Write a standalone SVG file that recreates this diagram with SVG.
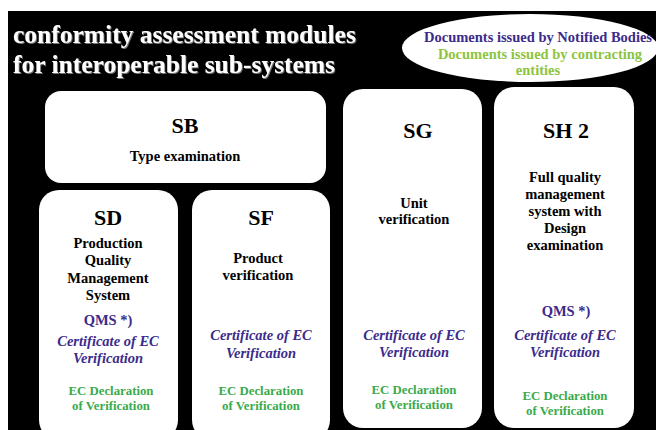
<svg xmlns="http://www.w3.org/2000/svg" width="656" height="430" viewBox="0 0 656 430">
<defs>
<style>
text{font-weight:bold;text-anchor:middle}
.box{fill:#ffffff}
.title{fill:#ffffff;font-size:25.5px;text-anchor:start}
.code{fill:#000000;font-size:22px}
.desc{fill:#000000;font-size:14.5px}
.nb{fill:#3b2b8c;font-size:14.5px}
.cert{fill:#3b2b8c;font-size:14.5px;font-style:italic}
.ce{fill:#8cc43f;font-size:14.5px}
.dec{fill:#3aaa4a;font-size:12.8px}
</style>
<filter id="sh" x="-5%" y="-20%" width="110%" height="140%">
<feDropShadow dx="1" dy="1" stdDeviation="0.6" flood-color="#808080" flood-opacity="0.9"/>
</filter>
</defs>
<g font-family="'Liberation Serif', 'Times New Roman', 'DejaVu Serif', serif">
<rect x="0" y="0" width="656" height="430" fill="#ffffff"/>
<rect x="8" y="11" width="648" height="419" fill="#000000"/>
<g id="title" filter="url(#sh)">
<text class="title" x="13" y="43">conformity assessment modules</text>
<text class="title" x="13" y="73">for interoperable sub-systems</text>
</g>
<g id="legend">
<ellipse cx="530" cy="48" rx="128" ry="34" fill="#ffffff"/>
<text class="nb" x="538" y="42">Documents issued by Notified Bodies</text>
<text class="ce" x="540" y="59">Documents issued by contracting</text>
<text class="ce" x="538" y="75">entities</text>
</g>
<g id="connectors"></g>
<g id="SB">
<rect class="box" x="45" y="91" width="281" height="92" rx="16"/>
<text class="code" x="185" y="133">SB</text>
<text class="desc" x="185" y="161">Type examination</text>
</g>
<g id="SD">
<rect class="box" x="39" y="190" width="139" height="250" rx="20"/>
<text class="code" x="108" y="225">SD</text>
<text class="desc" x="108" y="248">Production</text>
<text class="desc" x="108" y="265">Quality</text>
<text class="desc" x="108" y="283">Management</text>
<text class="desc" x="108" y="300">System</text>
<text class="nb" x="108" y="325">QMS *)</text>
<text class="cert" x="108" y="346">Certificate of EC</text>
<text class="cert" x="108" y="363">Verification</text>
<text class="dec" x="111" y="395">EC Declaration</text>
<text class="dec" x="111" y="410">of Verification</text>
</g>
<g id="SF">
<rect class="box" x="192" y="190" width="138" height="250" rx="20"/>
<text class="code" x="261" y="225">SF</text>
<text class="desc" x="258" y="263">Product</text>
<text class="desc" x="258" y="280">verification</text>
<text class="cert" x="261" y="340">Certificate of EC</text>
<text class="cert" x="261" y="358">Verification</text>
<text class="dec" x="261" y="395">EC Declaration</text>
<text class="dec" x="261" y="410">of Verification</text>
</g>
<g id="SG">
<rect class="box" x="343" y="89" width="139" height="339" rx="20"/>
<text class="code" x="418" y="138">SG</text>
<text class="desc" x="414" y="208">Unit</text>
<text class="desc" x="414" y="224">verification</text>
<text class="cert" x="414" y="340">Certificate of EC</text>
<text class="cert" x="414" y="357">Verification</text>
<text class="dec" x="414" y="394">EC Declaration</text>
<text class="dec" x="414" y="409">of Verification</text>
</g>
<g id="SH2">
<rect class="box" x="494" y="87" width="140" height="341" rx="20"/>
<text class="code" x="566" y="138">SH 2</text>
<text class="desc" x="565" y="182">Full quality</text>
<text class="desc" x="565" y="199">management</text>
<text class="desc" x="565" y="216">system with</text>
<text class="desc" x="565" y="233">Design</text>
<text class="desc" x="565" y="250">examination</text>
<text class="nb" x="566" y="316">QMS *)</text>
<text class="cert" x="565" y="340">Certificate of EC</text>
<text class="cert" x="565" y="357">Verification</text>
<text class="dec" x="565" y="400">EC Declaration</text>
<text class="dec" x="565" y="415">of Verification</text>
</g>
</g>
</svg>
